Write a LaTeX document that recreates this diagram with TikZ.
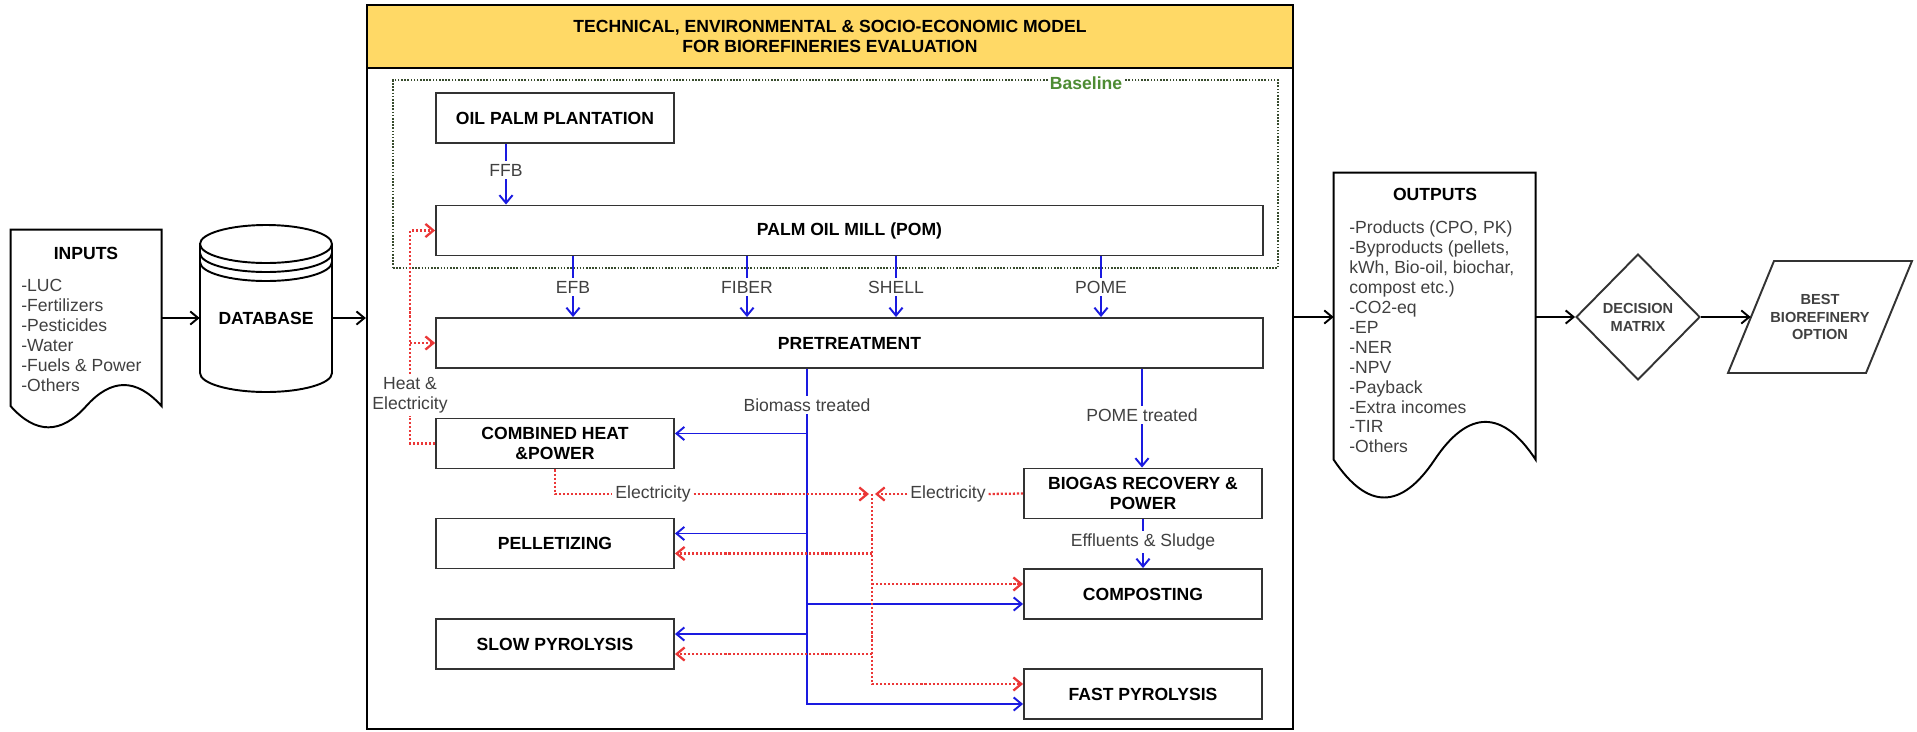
\documentclass[tikz,border=0pt]{standalone}
\usepackage{fontspec}
\setmainfont{Liberation Sans}
\usetikzlibrary{arrows.meta,positioning,calc,shapes.geometric}
\definecolor{flowblue}{RGB}{26,26,224}
\definecolor{powerred}{RGB}{235,55,55}
\definecolor{boxgray}{RGB}{51,51,51}
\definecolor{lblgray}{RGB}{64,64,64}
\definecolor{titleyellow}{RGB}{255,217,102}
\definecolor{basegreen}{RGB}{77,140,51}
\definecolor{baseframe}{RGB}{55,75,45}

\begin{document}
\begin{tikzpicture}[
    x=0.02cm, y=-0.02cm,
    >={Straight Barb[length=4.5pt,width=7.5pt]},
    every node/.style={font=\fontsize{10}{11.34}\selectfont},
    bold/.style={font=\fontsize{10}{11.34}\selectfont\bfseries},
    proc/.style={draw=boxgray, line width=1.1pt, minimum width=4.76cm, minimum height=1cm,
        inner sep=0pt, align=center, bold},
    wideproc/.style={proc, minimum width=16.54cm},
    lbl/.style={fill=white, text=lblgray, inner sep=1.5pt, align=center},
    flowline/.style={draw=flowblue, line width=1.1pt},
    flow/.style={flowline, ->},
    power/.style={draw=powerred, line width=1.3pt, dash pattern=on 1.2pt off 1.1pt},
    link/.style={->, line width=1.1pt},
    shapeline/.style={draw=black, line width=1.1pt},
    ghost/.style={inner sep=0pt},
    small/.style={font=\fontsize{8.3}{10.2}\selectfont\bfseries, text=lblgray, align=center}
]
\useasboundingbox (0,0) rectangle (1917,731);

% Inputs document
\node[ghost, minimum width=3.02cm, minimum height=4cm] (inputs) at (86.5,330) {};
\begin{scope}[shift={(inputs.north west)}]
\draw[shapeline] (0,0) -- (151,0) -- (151,176.5)
    .. controls (125.8,148.3) and (100.7,148.3) .. (75.5,176.5)
    .. controls (50.3,204.7) and (25.2,204.7) .. (0,176.5) -- cycle;
\end{scope}
\node[bold] (intitle) at (86,253) {INPUTS};
\node[anchor=west, align=left, text=lblgray, inner sep=0pt] (inlist) at (21,335.5)
    {-LUC\\-Fertilizers\\-Pesticides\\-Water\\-Fuels \& Power\\-Others};

% Database
\node[ghost, bold, minimum width=2.64cm] (db) at (266,318) {DATABASE};
\begin{scope}[shift={(db.center)}]
\draw[shapeline] (-66,-74) arc[start angle=180, end angle=0, x radius=1.32cm, y radius=0.38cm]
    -- (66,55) arc[start angle=0, end angle=-180, x radius=1.32cm, y radius=0.38cm] -- cycle;
\foreach \off in {0,9,18}
    \draw[shapeline] (-66,-74+\off) arc[start angle=180, end angle=360, x radius=1.32cm, y radius=0.38cm];
\end{scope}

% Model frame
\node[draw=black, line width=1.4pt, minimum width=18.52cm, minimum height=14.48cm, inner sep=0pt] (model) at (830,367) {};
\node[draw=black, line width=1.4pt, fill=titleyellow, minimum width=18.52cm, minimum height=1.26cm,
    inner sep=0pt, align=center, bold] (title) at (830,36.5)
    {TECHNICAL, ENVIRONMENTAL \& SOCIO-ECONOMIC MODEL\\FOR BIOREFINERIES EVALUATION};

% Baseline
\node[draw=baseframe, line width=0.7pt, dash pattern=on 0.9pt off 0.9pt, minimum width=17.7cm,
    minimum height=3.76cm, inner sep=0pt] (baseline) at (835.5,174) {};
\node[fill=white, text=basegreen, inner sep=1pt, bold] (baselbl) at (1086,83) {Baseline};

% Processes
\node[proc] (plant) at (555,118) {OIL PALM PLANTATION};
\node[wideproc] (pom) at (849.5,230.5) {PALM OIL MILL (POM)};
\node[wideproc] (pretreat) at (849.5,343) {PRETREATMENT};
\node[proc] (chp) at (555,443.5) {COMBINED HEAT\\\&POWER};
\node[proc] (pellet) at (555,543.5) {PELLETIZING};
\node[proc] (slow) at (555,644) {SLOW PYROLYSIS};
\node[proc] (biogas) at (1143,493.5) {BIOGAS RECOVERY \&\\POWER};
\node[proc] (compost) at (1143,594) {COMPOSTING};
\node[proc] (fast) at (1143,694) {FAST PYROLYSIS};

% Labels
\node[lbl] (ffb) at (506,170) {FFB};
\node[lbl] (efb) at (573,287) {EFB};
\node[lbl] (fiber) at (747,287) {FIBER};
\node[lbl] (shell) at (896,287) {SHELL};
\node[lbl] (pome) at (1101,287) {POME};
\node[lbl] (bio) at (807,405) {Biomass treated};
\node[lbl] (ptd) at (1142,415) {POME treated};
\node[lbl] (eff) at (1143,542) {Effluents \& Sludge};
\node[lbl] (heat) at (410,395) {Heat \&\\Electricity};
\node[lbl] (elecL) at (653,494) {Electricity};
\node[lbl] (elecR) at (948,494) {Electricity};

% Branch points
\coordinate (chpin) at ([yshift=0.2cm]chp.east);
\coordinate (pelin) at ([yshift=0.2cm]pellet.east);
\coordinate (slowin) at ([yshift=0.2cm]slow.east);
\coordinate (compin) at ([yshift=-0.2cm]compost.west);
\coordinate (fastin) at ([yshift=-0.2cm]fast.west);
\coordinate (pelpow) at ([yshift=-0.2cm]pellet.east);
\coordinate (slowpow) at ([yshift=-0.2cm]slow.east);
\coordinate (comppow) at ([yshift=0.2cm]compost.west);
\coordinate (fastpow) at ([yshift=0.2cm]fast.west);
\coordinate (hub) at (872,494);

% Material flows
\draw[flowline] (plant.south -| ffb) -- (ffb.north);
\draw[flow] (ffb.south) -- (pom.north -| ffb);
\foreach \m in {efb,fiber,shell,pome} {
    \draw[flowline] (pom.south -| \m) -- (\m.north);
    \draw[flow] (\m.south) -- (pretreat.north -| \m);
}
\draw[flowline] (pretreat.south -| bio) -- (bio.north);
\draw[flow] (bio.south) |- (fastin);
\foreach \c in {chpin,pelin,slowin,compin}
    \draw[flow] (\c -| bio) -- (\c);
\draw[flowline] (pretreat.south -| ptd) -- (ptd.north);
\draw[flow] (ptd.south) -- (biogas.north -| ptd);
\draw[flowline] (biogas.south) -- (eff.north);
\draw[flow] (eff.south) -- (compost.north);

% Energy flows
\draw[power] (chp.west) -| (heat.south);
\draw[power, ->] (heat.north) |- (pom.west);
\draw[power, ->] (heat.north |- pretreat.west) -- (pretreat.west);
\draw[power] (chp.south) |- (elecL.west);
\draw[power, ->] (elecL.east) -- ([xshift=-0.06cm]hub);
\draw[power] (biogas.west) -- (elecR.east);
\draw[power, ->] (elecR.west) -- ([xshift=0.06cm]hub);
\draw[power, ->] (hub) |- (fastpow);
\foreach \c in {pelpow,slowpow,comppow}
    \draw[power, ->] (hub |- \c) -- (\c);

% Outputs document
\node[ghost, minimum width=4.04cm, minimum height=6.58cm] (outputs) at (1435,337.5) {};
\begin{scope}[shift={(outputs.north west)}]
\draw[shapeline] (0,0) -- (202,0) -- (202,287)
    .. controls (169,236.6) and (134.7,236.6) .. (101,287)
    .. controls (67.3,337.4) and (33.7,337.4) .. (0,287) -- cycle;
\end{scope}
\node[bold] (outtitle) at (1435,194) {OUTPUTS};
\node[anchor=west, align=left, text=lblgray, inner sep=0pt] (outlist) at (1349,337)
    {-Products (CPO, PK)\\-Byproducts (pellets,\\kWh, Bio-oil, biochar,\\compost etc.)\\-CO2-eq\\-EP\\-NER\\-NPV\\-Payback\\-Extra incomes\\-TIR\\-Others};

% Decision
\node[diamond, draw=boxgray, line width=1.1pt, minimum width=2.48cm, minimum height=2.52cm,
    inner sep=0pt, small] (dm) at (1638,317) {DECISION\\MATRIX};
\node[ghost, small, minimum width=2.76cm] (best) at (1820,317) {BEST\\BIOREFINERY\\OPTION};
\begin{scope}[shift={(best.center)}]
\draw[draw=boxgray, line width=1.1pt] (-92,56) -- (-46,-56) -- (92,-56) -- (46,56) -- cycle;
\end{scope}

% Links
\draw[link] (inputs.east |- db.west) -- (db.west);
\draw[link] (db.east) -- (db.east -| model.west);
\draw[link] (model.east |- dm) -- (outputs.west |- dm);
\draw[link] (outputs.east |- dm) -- (dm.west);
\draw[link] (dm.east) -- (best.west);
\end{tikzpicture}
\end{document}
